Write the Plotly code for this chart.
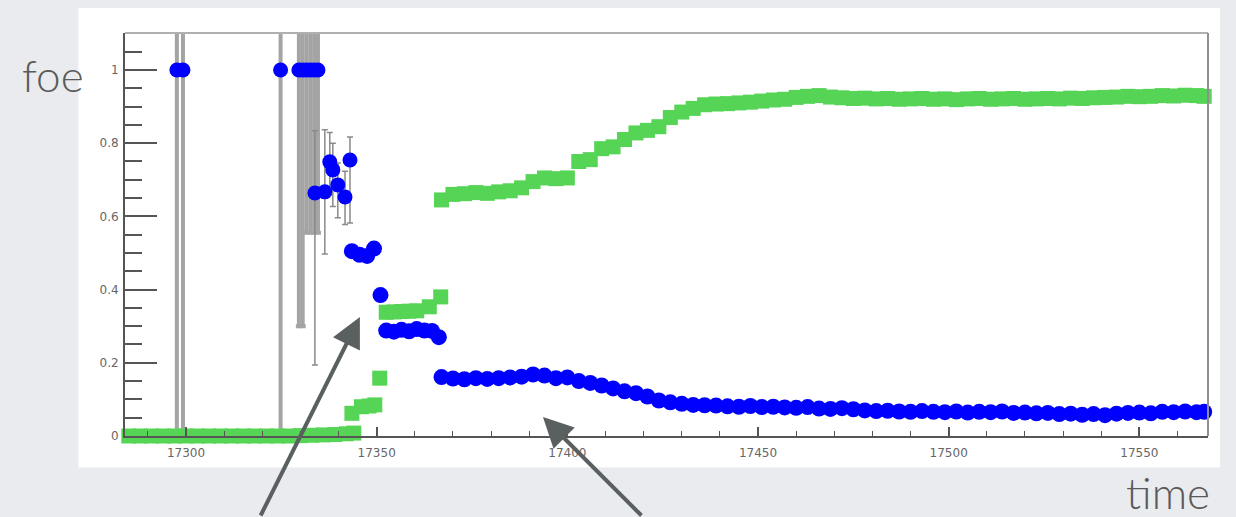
import plotly.graph_objects as go

# ---------------- data ----------------
# green series (squares)
green_zero_t = [17285, 17288, 17291, 17294, 17297, 17300, 17303, 17306, 17309, 17312, 17315,
                17318, 17321, 17324, 17327, 17330, 17333, 17336, 17339, 17342, 17344]
green_zero_v = [0.0, 0.0, 0.0, 0.0, 0.0, 0.0, 0.0, 0.0, 0.0, 0.0, 0.0,
                0.0, 0.0, 0.0, 0.0, 0.001, 0.002, 0.003, 0.004, 0.006, 0.008]

green_step_t = [17343.5, 17346.0, 17348.0, 17349.5, 17350.8, 17352.5, 17354.5, 17356.5,
                17358.5, 17360.5, 17363.8, 17366.8]
green_step_v = [0.062, 0.080, 0.082, 0.085, 0.158, 0.338, 0.339, 0.340, 0.341, 0.342,
                0.353, 0.380]

main_t = [17367, 17370, 17373, 17376, 17379, 17382, 17385, 17388, 17391, 17394, 17397, 17400,
          17403, 17406, 17409, 17412, 17415, 17418, 17421, 17424, 17427, 17430, 17433, 17436,
          17439, 17442, 17445, 17448, 17451, 17454, 17457, 17460, 17463, 17466, 17469, 17472,
          17475, 17478, 17481, 17484, 17487, 17490, 17493, 17496, 17499, 17502, 17505, 17508,
          17511, 17514, 17517, 17520, 17523, 17526, 17529, 17532, 17535, 17538, 17541, 17544,
          17547, 17550, 17553, 17556, 17559, 17562, 17565, 17567]

green_main_v = [0.645, 0.660, 0.662, 0.665, 0.663, 0.667, 0.670, 0.678, 0.695, 0.705, 0.703, 0.705,
                0.750, 0.755, 0.785, 0.790, 0.810, 0.828, 0.835, 0.845, 0.870, 0.885, 0.895, 0.905,
                0.907, 0.908, 0.910, 0.912, 0.915, 0.918, 0.920, 0.925, 0.928, 0.930, 0.926, 0.924,
                0.922, 0.923, 0.921, 0.922, 0.920, 0.921, 0.922, 0.920, 0.921, 0.919, 0.921, 0.922,
                0.920, 0.921, 0.922, 0.920, 0.921, 0.922, 0.921, 0.923, 0.922, 0.924, 0.925, 0.926,
                0.928, 0.927, 0.928, 0.930, 0.929, 0.931, 0.930, 0.928]

blue_main_v = [0.161, 0.157, 0.155, 0.158, 0.156, 0.158, 0.160, 0.162, 0.168, 0.165, 0.158, 0.160,
               0.150, 0.145, 0.138, 0.130, 0.122, 0.117, 0.108, 0.097, 0.092, 0.088, 0.085, 0.084,
               0.083, 0.081, 0.080, 0.082, 0.079, 0.080, 0.078, 0.077, 0.079, 0.075, 0.074, 0.076,
               0.073, 0.070, 0.068, 0.069, 0.067, 0.066, 0.068, 0.066, 0.065, 0.067, 0.064, 0.066,
               0.065, 0.067, 0.063, 0.064, 0.062, 0.063, 0.060, 0.061, 0.058, 0.060, 0.057, 0.061,
               0.063, 0.064, 0.062, 0.066, 0.065, 0.067, 0.065, 0.066]

# blue series (circles) - early part
blue_step_t = [17343.5, 17345.5, 17347.5, 17349.3, 17351.0, 17352.5, 17354.5, 17356.5,
               17358.5, 17360.5, 17362.5, 17364.5, 17366.3]
blue_step_v = [0.505, 0.495, 0.492, 0.512, 0.385, 0.288, 0.285, 0.290, 0.286, 0.292,
               0.288, 0.287, 0.270]

blue_bigerr_t = [17297.6, 17299.2, 17324.8, 17329.6, 17330.6, 17331.6, 17332.6, 17333.6, 17334.6]
blue_bigerr_v = [1.0, 1.0, 1.0, 1.0, 1.0, 1.0, 1.0, 1.0, 1.0]
blue_bigerr_up = [0.11, 0.11, 0.11, 0.11, 0.11, 0.11, 0.11, 0.11, 0.11]
blue_bigerr_dn = [1.0, 1.0, 1.0, 0.70, 0.70, 0.445, 0.445, 0.445, 0.445]

blue_err_t = [17333.8, 17336.4, 17337.7, 17338.5, 17339.8, 17341.7, 17343.0]
blue_err_v = [0.664, 0.667, 0.749, 0.727, 0.686, 0.653, 0.754]
blue_err_up = [0.17, 0.17, 0.08, 0.073, 0.06, 0.07, 0.063]
blue_err_dn = [0.47, 0.17, 0.09, 0.10, 0.09, 0.075, 0.172]

x_tickvals = [17300, 17350, 17400, 17450, 17500, 17550]
x_ticktext = ["17300", "17350", "17400", "17450", "17500", "17550"]
y_tickvals = [0, 0.2, 0.4, 0.6, 0.8, 1]
y_ticktext = ["0", "0.2", "0.4", "0.6", "0.8", "1"]

BLUE = "#0000ff"
GREEN = "#55d455"

fig = go.Figure()

fig.add_trace(go.Scatter(
    x=blue_bigerr_t, y=blue_bigerr_v, mode="markers",
    marker=dict(symbol="circle", size=15, color=BLUE),
    error_y=dict(type="data", symmetric=False, array=blue_bigerr_up, arrayminus=blue_bigerr_dn,
                 color="#a4a4a4", thickness=4, width=3),
    cliponaxis=False, showlegend=False))

fig.add_trace(go.Scatter(
    x=blue_err_t, y=blue_err_v, mode="markers",
    marker=dict(symbol="circle", size=15, color=BLUE),
    error_y=dict(type="data", symmetric=False, array=blue_err_up, arrayminus=blue_err_dn,
                 color="#8a8a8a", thickness=1.5, width=3),
    cliponaxis=False, showlegend=False))

for tx, vy in [(green_zero_t, green_zero_v), (green_step_t, green_step_v), (main_t, green_main_v)]:
    fig.add_trace(go.Scatter(
        x=tx, y=vy, mode="markers",
        marker=dict(symbol="square", size=15, color=GREEN, line=dict(width=0)),
        cliponaxis=False, showlegend=False))

for tx, vy in [(blue_step_t, blue_step_v), (main_t, blue_main_v)]:
    fig.add_trace(go.Scatter(
        x=tx, y=vy, mode="markers",
        marker=dict(symbol="circle", size=16, color=BLUE, line=dict(width=0)),
        cliponaxis=False, showlegend=False))

AX_COL = "#555555"
TICK_FONT = dict(family="DejaVu Sans", size=12, color="#666666")

fig.update_layout(
    width=1236, height=517,
    margin=dict(l=125, r=28, t=33, b=81),
    paper_bgcolor="#e9ebee",
    plot_bgcolor="#ffffff",
    xaxis=dict(
        range=[17284, 17568], showgrid=False, zeroline=False,
        showline=True, linecolor=AX_COL, linewidth=2,
        ticks="inside", ticklen=9, tickwidth=1.5, tickcolor=AX_COL,
        tickvals=x_tickvals, ticktext=x_ticktext, tickfont=TICK_FONT, ticklabelstandoff=5,
        minor=dict(ticks="inside", ticklen=5, dtick=10, tick0=17300, tickcolor=AX_COL, tickwidth=1),
    ),
    yaxis=dict(
        range=[0, 1.101], showgrid=False, zeroline=False,
        showline=True, linecolor=AX_COL, linewidth=2,
        ticks="inside", ticklen=32, tickwidth=2, tickcolor=AX_COL,
        tickvals=y_tickvals, ticktext=y_ticktext, tickfont=TICK_FONT, ticklabelstandoff=2,
        minor=dict(ticks="inside", ticklen=17, dtick=0.05, tick0=0, tickcolor=AX_COL, tickwidth=2),
    ),
)

# white chart panel and frame
fig.add_shape(type="rect", xref="paper", yref="paper", x0=-0.043, x1=1.011, y0=-0.078, y1=1.062,
              fillcolor="#ffffff", line=dict(width=0), layer="below")
fig.add_shape(type="line", xref="paper", yref="paper", x0=0, x1=1, y0=1, y1=1,
              line=dict(color="#b0b0b0", width=2))
fig.add_shape(type="line", xref="paper", yref="paper", x0=1, x1=1, y0=0, y1=1,
              line=dict(color="#909090", width=2))

LABEL_FONT = dict(family="Lato", size=44, color="#5a5a5a", weight=300)
fig.add_annotation(text="foe", xref="paper", yref="paper", x=-0.097, y=0.895,
                   xanchor="left", yanchor="middle", showarrow=False, font=LABEL_FONT)
fig.add_annotation(text="time", xref="paper", yref="paper", x=1.004, y=-0.138,
                   xanchor="right", yanchor="middle", showarrow=False, font=LABEL_FONT)

ARROW_COL = "#5a5f5f"
fig.add_annotation(x=17345.6, y=0.325, xref="x", yref="y", text="", showarrow=True,
                   ax=-100, ay=212, arrowhead=2, arrowsize=1.5, arrowwidth=4,
                   arrowcolor=ARROW_COL, standoff=0)
fig.add_annotation(x=17393.6, y=0.052, xref="x", yref="y", text="", showarrow=True,
                   ax=100, ay=108, arrowhead=2, arrowsize=1.5, arrowwidth=4,
                   arrowcolor=ARROW_COL, standoff=0)

fig.write_html("out.html", config={"displayModeBar": False},
               post_script="document.body.style.margin='0px';")
